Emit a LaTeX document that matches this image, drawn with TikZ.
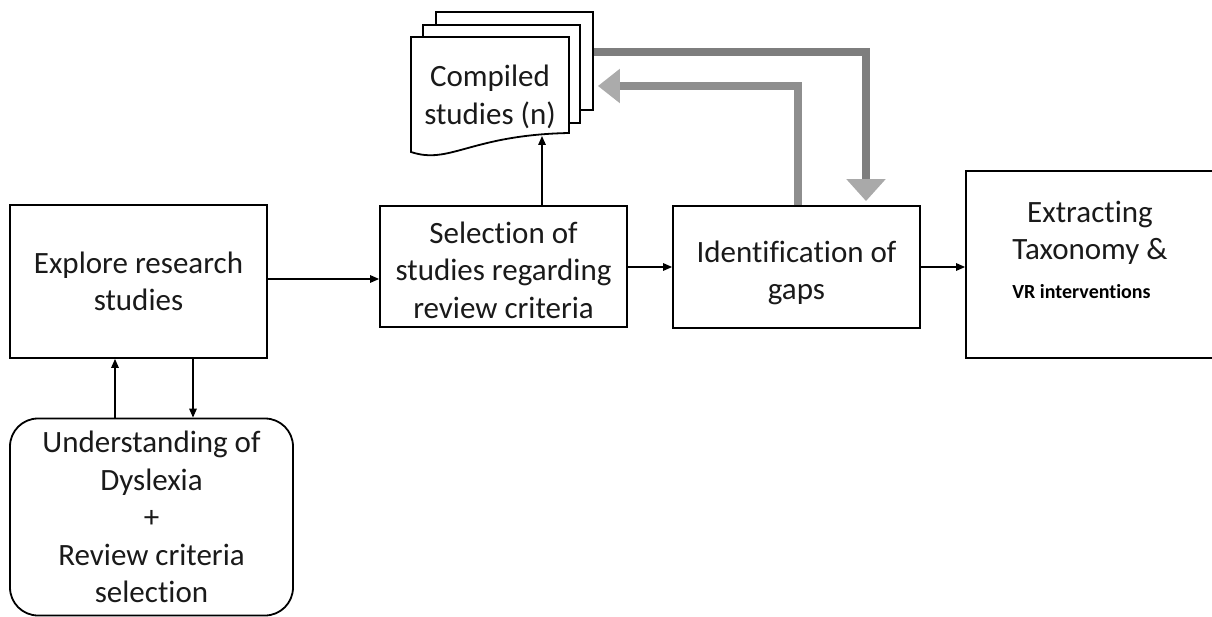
\documentclass[tikz,border=0pt]{standalone}
\usepackage{fontspec}
\setmainfont{Carlito}[Ligatures={NoCommon,NoRare}]
\usetikzlibrary{arrows.meta,calc}
\definecolor{txt}{HTML}{1A1A1A}
\definecolor{darkarr}{HTML}{7E7E7E}
\definecolor{darkhead}{HTML}{A9A9A9}
\definecolor{lightarr}{HTML}{8E8E8E}
\definecolor{lighthead}{HTML}{ABABAB}
\begin{document}
\begin{tikzpicture}[x=1pt,y=-1pt,
  box/.style={draw=black, line width=1.8pt, fill=white, inner sep=0pt, align=center, text=txt, font=\fontsize{31}{37.5}\selectfont},
  page/.style={draw=black, line width=1.8pt, fill=white, inner sep=0pt},
  lbl/.style={text=txt, align=center, inner sep=0pt, font=\fontsize{31}{37.5}\selectfont},
  thin/.style={line width=1.5pt, -{Triangle[length=9pt,width=7.5pt]}},
  fat/.style={line width=8.5pt}]
\useasboundingbox (0,0) rectangle (1212,617);
\clip (0,0) rectangle (1212,617);

% boxes
\node[box, minimum width=257pt, minimum height=153pt] (exp) at (138.5,281.5) {Explore research\\studies};
\node[box, rounded corners=28pt, minimum width=283pt, minimum height=197pt] (und) at (151.5,517) {Understanding of\\Dyslexia\\+\\Review criteria\\selection};
\node[box, minimum width=247pt, minimum height=121pt] (sel) at (503.5,266.5) {};
\node[lbl] (selt) at (503.5,270) {Selection of\\studies regarding\\review criteria};
\node[box, minimum width=247pt, minimum height=122pt] (gap) at (796.5,267) {};
\node[lbl] (gapt) at (796.5,273) {Identification of\\gaps};
\node[box, minimum width=248pt, minimum height=187pt] (ext) at (1090,264.5) {};
\node[lbl] (extt) at (1090,233) {Extracting\\Taxonomy \&};
\node[text=black, inner sep=0pt, font=\fontsize{20}{24}\selectfont\bfseries] (vr) at (1081.5,292) {VR interventions};

% compiled studies (multi-document)
\node[page, minimum width=157pt, minimum height=98pt] (pg3) at (514.5,61) {};
\node[page, minimum width=157pt, minimum height=98pt] (pg2) at (501.5,74) {};
\filldraw[fill=white, draw=black, line width=1.8pt]
  (411,37) -- (569,37) -- (569,133) .. controls (470,135) and (450,165) .. (411,152) -- cycle;
\node[lbl] (comp) at (490,97) {Compiled\\studies (n)};
\coordinate (docb) at (542,136);

% helper coordinates
\coordinate (xup) at (115,0);
\coordinate (xdn) at (193,0);
\coordinate (y1) at (0,279);
\coordinate (xa) at (798,0);
\coordinate (xb) at (866,0);

% thin connectors
\draw[thin] (und.north -| xup) -- (exp.south -| xup);
\draw[thin] (exp.south -| xdn) -- (und.north -| xdn);
\draw[thin] (exp.east |- y1) -- (sel.west |- y1);
\draw[thin] (sel.east |- gap.west) -- (gap.west);
\draw[thin] (gap.east) -- (ext.west |- gap.east);
\draw[thin] (sel.north -| docb) -- (docb);

% thick feedback arrows
\draw[fat, darkarr, -{Triangle[length=22pt,width=38pt,color=darkhead]}, shorten >=4pt]
  ($(pg3.east)+(0,-9)$) -| (gap.north -| xb);
\draw[fat, lightarr, -{Triangle[length=22pt,width=33pt,color=lighthead]}, shorten >=4pt]
  (gap.north -| xa) |- ($(pg3.east)+(0,25)$);
\end{tikzpicture}
\end{document}
